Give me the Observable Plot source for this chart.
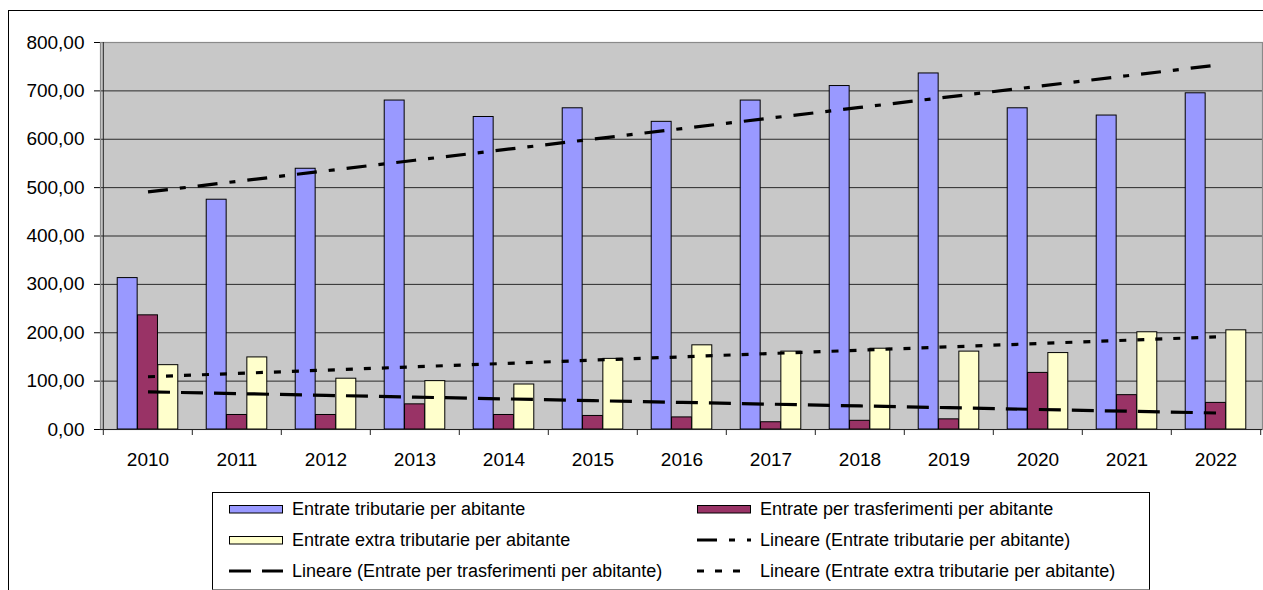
<!DOCTYPE html>
<html>
<head>
<meta charset="utf-8">
<script src="https://cdn.jsdelivr.net/npm/d3@7"></script>
<script src="https://cdn.jsdelivr.net/npm/@observablehq/plot@0.6"></script>
<style>
  html, body { margin: 0; padding: 0; background: #fff; }
  #wrap { position: relative; width: 1263px; height: 590px; overflow: hidden; font-family: "Liberation Sans", Arial, sans-serif; }
  #chart { position: absolute; left: 0; top: 0; }
  #border { position: absolute; left: 8px; top: 10px; width: 2000px; height: 2000px; border-left: 1px solid #000; border-top: 1px solid #000; box-sizing: border-box; }
  #legend { position: absolute; left: 212px; top: 492px; width: 938px; height: 98px; box-sizing: border-box; border: 1px solid #000; border-bottom-color: #888; background: #fff; }
  .item { position: absolute; display: flex; align-items: center; height: 20px; font-size: 18px; color: #000; white-space: nowrap; }
  .item svg { display: block; margin-right: 9px; }
</style>
</head>
<body>
<div id="wrap">
  <div id="border"></div>
  <div id="chart"></div>
  <div id="legend"></div>
</div>
<script>
// ---- data ----
const years = [2010, 2011, 2012, 2013, 2014, 2015, 2016, 2017, 2018, 2019, 2020, 2021, 2022];
const tributarie   = [313, 475, 539, 680, 646, 664, 636, 680, 710, 736, 664, 649, 695];
const trasferimenti = [236, 30, 30, 52, 30, 28, 25, 15, 18, 21, 117, 71, 55];
const extra        = [133, 149, 105, 100, 93, 146, 174, 161, 167, 161, 158, 201, 205];
const seriesNames = [
  "Entrate tributarie per abitante",
  "Entrate per trasferimenti per abitante",
  "Entrate extra tributarie per abitante"
];
const trendNames = [
  "Lineare (Entrate tributarie per abitante)",
  "Lineare (Entrate per trasferimenti per abitante)",
  "Lineare (Entrate extra tributarie per abitante)"
];
const yTicks = [0, 100, 200, 300, 400, 500, 600, 700, 800];

// ---- styles ----
const colors = ["#9999FF", "#993366", "#FFFFCC"];
const dashes = ["20,12,6,12", "22,11", "7,11"];

// ---- layout ----
const W = 1263, H = 470, mL = 100, mR = 1, mT = 42, mB = 41;
const plotH = H - mT - mB;
const bw = (W - mL - mR) / years.length;
const barW = bw / 4.4;
const gapW = 0.7 * barW;

const allSeries = [tributarie, trasferimenti, extra];

function linearFit(vals) {
  const n = vals.length;
  const xs = vals.map((_, i) => i);
  const mx = d3.mean(xs), my = d3.mean(vals);
  let sxy = 0, sxx = 0;
  for (let i = 0; i < n; i++) { sxy += (xs[i] - mx) * (vals[i] - my); sxx += (xs[i] - mx) ** 2; }
  const b = sxy / sxx, a = my - b * mx;
  return xs.map(x => a + b * x);
}

const barMarks = allSeries.map((vals, s) => {
  const rows = years.map((y, i) => ({year: y, value: vals[i]}));
  const left = gapW + s * barW;
  return Plot.barY(rows, {
    x: "year", y: "value", fill: colors[s], stroke: "#000", strokeWidth: 1,
    insetLeft: left, insetRight: bw - left - barW
  });
});

const trendMarks = allSeries.map((vals, s) => {
  const fit = linearFit(vals);
  const rows = years.map((y, i) => ({year: y, value: fit[i]}));
  return Plot.lineY(rows, {
    x: "year", y: "value", stroke: "#000", strokeWidth: 3.2,
    strokeDasharray: dashes[s], strokeLinecap: "butt"
  });
});

const chart = Plot.plot({
  width: W, height: H,
  marginLeft: mL, marginRight: mR, marginTop: mT, marginBottom: mB,
  style: {fontFamily: "'Liberation Sans', Arial, sans-serif", fontSize: "19px", color: "#000", background: "transparent", overflow: "visible"},
  x: {type: "band", domain: years, padding: 0, tickSize: 0, tickPadding: 23, label: null,
      tickFormat: d => String(d)},
  y: {domain: [0, 800], ticks: yTicks, tickSize: 6, tickPadding: 10, label: null,
      tickFormat: d => d.toFixed(2).replace(".", ",")},
  marks: [
    Plot.frame({fill: "#C8C8C8"}),
    Plot.ruleY(yTicks.slice(1, -1), {stroke: "#2a2a2a", strokeWidth: 1}),
    Plot.frame({stroke: "#8a8a8a", strokeWidth: 1.2}),
    ...barMarks,
    Plot.ruleY([0], {stroke: "#222"}),
    Plot.ruleX([years[0]], {dx: -bw / 2, stroke: "#222"}),
    Plot.ruleX(years, {dx: -bw / 2, insetTop: plotH - 6, dy: 6, stroke: "#222"}),
    Plot.ruleX([years[years.length - 1]], {dx: bw / 2, insetTop: plotH - 6, dy: 6, stroke: "#222"}),
    ...trendMarks
  ]
});
document.getElementById("chart").appendChild(chart);

// ---- legend ----
const legend = document.getElementById("legend");
const items = [
  {type: "bar", s: 0, label: seriesNames[0]},
  {type: "bar", s: 1, label: seriesNames[1]},
  {type: "bar", s: 2, label: seriesNames[2]},
  {type: "line", s: 0, label: trendNames[0]},
  {type: "line", s: 1, label: trendNames[1]},
  {type: "line", s: 2, label: trendNames[2]}
];
items.forEach((it, k) => {
  const row = Math.floor(k / 2), col = k % 2;
  const div = document.createElement("div");
  div.className = "item";
  div.style.left = (col ? 484 : 16) + "px";
  div.style.top = (16 + 31 * row - 10) + "px";
  const ns = "http://www.w3.org/2000/svg";
  const svg = document.createElementNS(ns, "svg");
  svg.setAttribute("width", 54); svg.setAttribute("height", 12);
  if (it.type === "bar") {
    const r = document.createElementNS(ns, "rect");
    r.setAttribute("x", 0.5); r.setAttribute("y", 2.5); r.setAttribute("width", 53); r.setAttribute("height", 7.5);
    r.setAttribute("fill", colors[it.s]); r.setAttribute("stroke", "#000");
    svg.appendChild(r);
  } else {
    const l = document.createElementNS(ns, "line");
    l.setAttribute("x1", 0); l.setAttribute("x2", 54); l.setAttribute("y1", 6); l.setAttribute("y2", 6);
    l.setAttribute("stroke", "#000"); l.setAttribute("stroke-width", 3.2);
    l.setAttribute("stroke-dasharray", dashes[it.s]);
    svg.appendChild(l);
  }
  div.appendChild(svg);
  const span = document.createElement("span");
  span.textContent = it.label;
  div.appendChild(span);
  legend.appendChild(div);
});
</script>
</body>
</html>
